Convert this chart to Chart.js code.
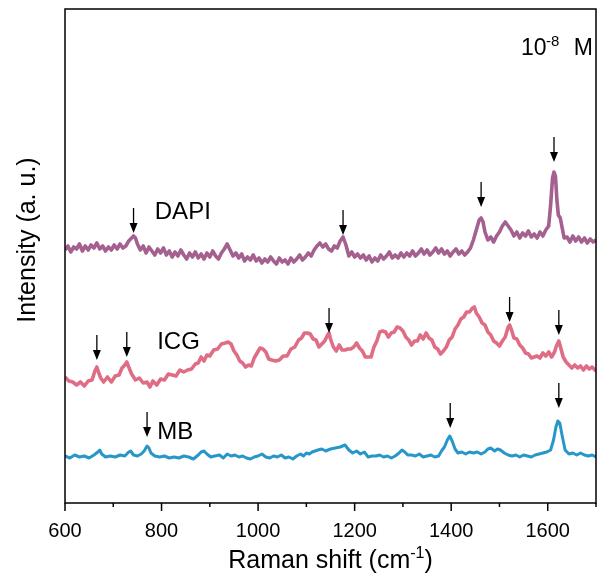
<!DOCTYPE html>
<html>
<head>
<meta charset="utf-8">
<script src="https://cdn.jsdelivr.net/npm/chart.js@4.4.1/dist/chart.umd.min.js"></script>
<style>
html, body { margin: 0; padding: 0; background: #fff; }
</style>
</head>
<body>
<canvas id="ramanChart" width="598" height="577"></canvas>
<script>
// spectra (x = Raman shift, y = intensity, arbitrary offset units)
const dapiShift = [600,606,612,618,624,630,636,642,648,654,660,666,672,678,684,690,696,702,708,714,720,726,732,738,742,746,750,756,762,768,774,780,786,792,798,804,810,816,822,828,834,840,846,852,858,864,870,876,882,888,894,900,906,912,918,924,930,936,942,948,954,960,966,972,978,984,990,996,1002,1008,1014,1020,1026,1032,1038,1044,1050,1056,1062,1068,1074,1080,1086,1092,1098,1104,1110,1116,1122,1128,1134,1140,1146,1152,1158,1164,1170,1176,1182,1188,1194,1200,1206,1212,1218,1224,1230,1236,1242,1248,1254,1260,1266,1272,1278,1284,1290,1296,1302,1308,1314,1320,1326,1332,1338,1344,1350,1356,1362,1368,1374,1380,1386,1392,1398,1404,1410,1416,1422,1428,1434,1440,1446,1452,1458,1462,1466,1470,1476,1482,1488,1494,1500,1506,1512,1518,1524,1530,1536,1542,1548,1554,1560,1566,1572,1578,1584,1590,1596,1602,1606,1610,1613,1616,1619,1622,1626,1630,1634,1640,1646,1652,1658,1664,1670,1676,1682,1688,1694,1700];
const dapiIntensity = [253,257,251,256,254,259,252,257,253,258,255,260,254,257,252,256,253,258,254,259,255,257,262,265,267,265,259,253,257,250,256,252,248,254,250,255,248,252,246,251,247,253,248,244,250,246,251,245,249,244,250,246,252,247,244,250,254,259,253,247,250,245,249,242,246,243,248,242,245,240,244,241,246,242,239,245,241,243,239,245,241,244,248,243,246,250,247,253,257,260,256,259,254,252,257,255,262,266,258,247,251,246,249,245,248,243,247,241,245,242,248,244,247,251,245,248,245,250,246,250,247,252,247,250,254,249,253,248,251,255,250,254,249,252,247,251,254,249,252,248,251,255,263,273,283,285,281,271,263,266,261,267,271,277,281,277,273,267,271,265,270,267,272,266,269,265,271,267,273,277,298,325,331,327,303,288,285,275,265,266,261,267,262,266,261,265,260,264,261,263];

const icgShift = [600,608,616,624,632,640,648,656,662,666,670,674,680,688,696,704,712,718,724,728,732,738,746,754,762,770,776,782,790,798,806,814,822,830,838,846,854,862,870,876,882,888,894,900,908,916,924,932,938,944,950,956,962,968,974,980,986,992,998,1004,1010,1016,1022,1028,1036,1044,1052,1060,1068,1076,1084,1090,1096,1102,1108,1114,1120,1126,1132,1138,1144,1147,1150,1156,1162,1168,1174,1180,1186,1192,1198,1204,1210,1216,1222,1228,1234,1240,1246,1252,1258,1264,1270,1276,1282,1288,1294,1300,1306,1312,1318,1324,1330,1336,1342,1348,1354,1360,1366,1372,1378,1384,1390,1396,1402,1408,1414,1420,1426,1432,1438,1444,1448,1452,1458,1464,1470,1476,1482,1488,1494,1500,1506,1512,1518,1521,1525,1530,1536,1542,1548,1554,1560,1566,1572,1578,1584,1590,1596,1602,1608,1614,1618,1623,1627,1632,1638,1644,1650,1656,1662,1668,1674,1680,1686,1692,1700];
const icgIntensity = [126,122,121,118,121,117,122,123,132,136,130,125,121,126,121,127,128,135,138,141,136,129,123,125,120,121,116,122,118,124,123,129,128,127,133,131,133,134,139,140,146,142,148,147,153,154,159,160,161,159,152,148,142,140,136,138,137,145,150,155,154,151,144,143,142,143,147,147,154,156,163,165,170,170,169,164,163,156,159,162,168,170,164,156,152,158,153,153,154,154,156,160,155,152,146,146,146,156,162,171,172,171,166,170,171,176,175,172,166,163,158,162,162,168,164,170,165,163,156,154,149,152,156,163,166,174,178,184,186,191,191,195,196,190,186,180,178,171,168,162,160,157,162,166,176,178,173,165,164,158,155,150,149,145,146,147,145,150,147,151,146,151,157,162,155,146,141,138,135,138,135,137,133,137,134,136,132];

const mbShift = [600,610,620,630,640,650,660,668,672,676,684,694,704,714,724,732,736,742,750,758,764,770,774,778,786,796,806,816,826,836,846,856,866,876,882,888,894,902,910,920,928,936,944,952,960,968,976,984,992,1000,1008,1016,1024,1032,1040,1048,1056,1064,1072,1080,1088,1094,1100,1106,1112,1118,1124,1132,1140,1150,1160,1170,1180,1188,1196,1204,1212,1220,1228,1236,1244,1252,1260,1268,1276,1284,1292,1298,1304,1310,1318,1326,1334,1342,1350,1358,1366,1374,1380,1386,1392,1397,1402,1408,1414,1422,1430,1438,1446,1454,1462,1470,1476,1482,1490,1496,1502,1510,1518,1526,1534,1542,1550,1558,1566,1574,1582,1590,1598,1606,1612,1617,1621,1625,1630,1636,1644,1652,1660,1668,1676,1684,1692,1700];
const mbIntensity = [47,45,48,46,47,45,48,51,53,49,46,47,46,48,47,51,52,48,47,49,52,57,55,50,47,46,47,45,46,45,47,46,44,48,51,52,49,46,47,48,45,49,47,48,46,47,45,44,46,47,49,46,45,47,46,48,45,46,44,47,49,47,50,49,51,52,53,54,52,54,55,56,58,53,50,52,49,51,46,47,47,48,46,47,45,47,50,53,51,48,48,47,49,46,47,48,46,47,52,56,63,67,62,54,50,51,49,51,50,51,49,51,54,55,52,54,53,50,48,47,48,46,48,47,46,48,49,50,51,53,63,76,82,80,67,53,49,50,48,50,48,47,48,46];

// marked peaks: position and the level where the arrow tip sits
const dapiPeaks = [742, 1176, 1462, 1613];
const dapiPeakTips = [270, 268, 296, 341];
const icgPeaks = [666, 728, 1147, 1521, 1623];
const icgPeakTips = [143, 146, 170, 181, 168];
const mbPeaks = [770, 1398, 1623];
const mbPeakTips = [66, 75, 95];

const spectrumNames = ['DAPI', 'ICG', 'MB'];

const FONT = '"Liberation Sans", Arial, sans-serif';

function toPoints(xs, ys) {
    return xs.map((x, i) => ({ x: x, y: ys[i] }));
}

// frame, ticks, arrows and text labels
const decorations = {
    id: 'decorations',
    afterDraw(chart) {
        const c = chart.ctx;
        const area = chart.chartArea;
        const xs = chart.scales.x;
        const ys = chart.scales.y;
        c.save();
        c.strokeStyle = '#000';
        c.fillStyle = '#000';
        c.lineWidth = 1.5;
        c.strokeRect(area.left, area.top, area.right - area.left, area.bottom - area.top);

        // outward ticks, long on labelled values
        xs.ticks.forEach(t => {
            const px = xs.getPixelForValue(t.value);
            const len = t.value % 200 === 0 ? 8 : 4;
            c.beginPath();
            c.moveTo(px, area.bottom);
            c.lineTo(px, area.bottom + len);
            c.stroke();
        });

        // down arrows over marked peaks
        const drawArrow = (shift, tip) => {
            const px = xs.getPixelForValue(shift);
            const py = ys.getPixelForValue(tip);
            c.lineWidth = 1.3;
            c.beginPath();
            c.moveTo(px, py - 25);
            c.lineTo(px, py - 8);
            c.stroke();
            c.beginPath();
            c.moveTo(px - 4, py - 10);
            c.lineTo(px + 4, py - 10);
            c.lineTo(px, py);
            c.closePath();
            c.fill();
        };
        dapiPeaks.forEach((p, i) => drawArrow(p, dapiPeakTips[i]));
        icgPeaks.forEach((p, i) => drawArrow(p, icgPeakTips[i]));
        mbPeaks.forEach((p, i) => drawArrow(p, mbPeakTips[i]));

        // spectrum names
        c.font = '24px ' + FONT;
        c.textBaseline = 'middle';
        c.textAlign = 'left';
        c.fillText(spectrumNames[0], xs.getPixelForValue(786), ys.getPixelForValue(291));
        c.fillText(spectrumNames[1], xs.getPixelForValue(791), ys.getPixelForValue(161));
        c.fillText(spectrumNames[2], xs.getPixelForValue(791), ys.getPixelForValue(71));

        // concentration tag, top right
        c.textBaseline = 'alphabetic';
        c.font = '23px ' + FONT;
        c.fillText('10', 521, 55);
        c.font = '15px ' + FONT;
        c.fillText('-8', 546, 46);
        c.font = '23px ' + FONT;
        c.textAlign = 'right';
        c.fillText('M', 593, 55);
        c.textAlign = 'left';

        // x axis title with superscript
        const parts = [['Raman shift (cm', 25, 0], ['-1', 16, -10], [')', 25, 0]];
        let total = 0;
        parts.forEach(p => { c.font = p[1] + 'px ' + FONT; total += c.measureText(p[0]).width; });
        let ax = (area.left + area.right) / 2 - total / 2;
        parts.forEach(p => {
            c.font = p[1] + 'px ' + FONT;
            c.fillText(p[0], ax, 568 + p[2]);
            ax += c.measureText(p[0]).width;
        });

        // y axis title
        c.save();
        c.translate(35, 240);
        c.rotate(-Math.PI / 2);
        c.font = '25px ' + FONT;
        c.textAlign = 'center';
        c.fillText('Intensity (a. u.)', 0, 0);
        c.restore();

        c.restore();
    }
};

const ctx = document.getElementById('ramanChart').getContext('2d');
const chart = new Chart(ctx, {
    type: 'line',
    data: {
        datasets: [
            { label: spectrumNames[0], data: toPoints(dapiShift, dapiIntensity), borderColor: '#A4608F', borderWidth: 3.6 },
            { label: spectrumNames[1], data: toPoints(icgShift, icgIntensity), borderColor: '#E06D86', borderWidth: 3.6 },
            { label: spectrumNames[2], data: toPoints(mbShift, mbIntensity), borderColor: '#2797CA', borderWidth: 3 }
        ]
    },
    options: {
        responsive: false,
        animation: false,
        layout: { padding: { top: 9, right: 2, left: 0, bottom: 0 } },
        elements: { point: { radius: 0 }, line: { tension: 0, borderJoinStyle: 'round' } },
        plugins: {
            legend: { display: false },
            tooltip: { enabled: false }
        },
        scales: {
            x: {
                type: 'linear',
                min: 600,
                max: 1700,
                ticks: {
                    stepSize: 100,
                    autoSkip: false,
                    maxRotation: 0,
                    color: '#000',
                    padding: 16,
                    font: { size: 20, family: FONT },
                    callback: v => (v % 200 === 0 ? v : '')
                },
                grid: { display: false, drawTicks: false },
                border: { display: false },
                afterFit: s => { s.height = 74; s.paddingLeft = 0; s.paddingRight = 0; }
            },
            y: {
                min: 0,
                max: 494,
                ticks: { display: false },
                grid: { display: false, drawTicks: false },
                border: { display: false },
                afterFit: s => { s.width = 65; }
            }
        }
    },
    plugins: [decorations]
});
</script>
</body>
</html>
